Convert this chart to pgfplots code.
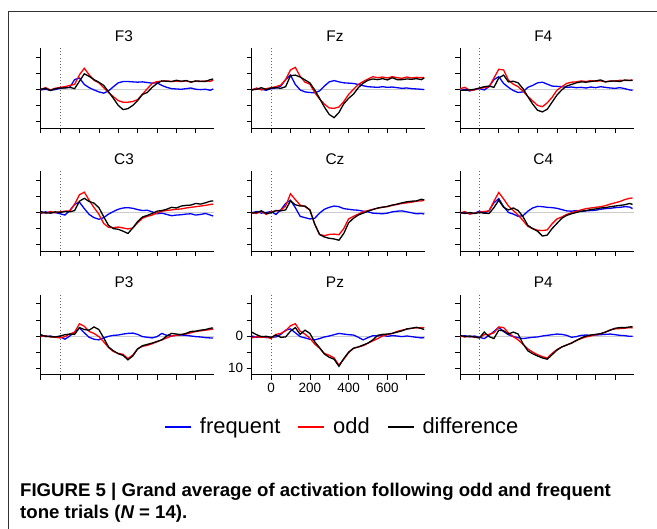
\documentclass[border=0pt]{standalone}
\usepackage{fontspec}
\setmainfont{Liberation Sans}
\newfontfamily\capfont[FakeStretch=1.01]{Liberation Sans}
\usepackage{pgfplots}
\usepackage{pgfplotstable}
\pgfplotsset{compat=1.18}

% t = ms, f = frequent, o = odd, d = difference (muV, negative up)
\pgfplotstableread{
t f o d
-100 0.2 0.1 0.0
-75 0.0 -0.5 -0.3
-50 0.3 0.2 0.4
-25 0.1 -0.3 -0.2
0 -0.3 -0.6 -0.4
25 -0.5 -0.8 -0.4
50 -0.6 -1.2 -0.6
75 -3.0 -1.5 -0.2
100 -3.5 -4.5 -2.5
125 -1.5 -6.5 -4.8
150 -0.5 -4.5 -4.0
175 0.2 -2.8 -3.0
200 0.8 -2.0 -2.2
225 1.2 -0.5 -1.2
250 0.5 1.0 0.8
275 -0.8 2.3 2.8
300 -2.0 3.5 5.0
325 -2.4 4.0 6.3
350 -2.4 4.0 6.0
375 -2.3 3.8 5.0
400 -2.2 3.2 3.5
425 -2.3 1.5 1.6
450 -2.1 -0.2 1.0
475 -1.9 -1.8 -0.6
500 -2.0 -2.4 -1.8
525 -1.2 -2.5 -2.6
550 -0.6 -2.6 -2.5
575 -0.2 -2.4 -2.4
600 -0.1 -2.5 -2.8
625 0.0 -2.4 -2.5
650 -0.2 -2.6 -2.7
675 -0.4 -2.3 -2.2
700 0.0 -2.5 -2.6
725 0.1 -2.4 -2.5
750 0.0 -2.6 -2.4
775 0.3 -2.5 -3.0
790 -0.1 -2.8 -3.2
}\tFthree

\pgfplotstableread{
t f o d
-100 0.1 0.3 0.2
-75 -0.2 -0.4 0.0
-50 0.0 0.2 -0.5
-25 0.3 -0.2 0.1
0 -0.2 -0.5 -0.4
25 -0.4 -0.8 -0.5
50 -1.0 -1.3 -0.3
75 -3.0 -3.0 -0.8
100 -4.4 -6.0 -4.2
125 -1.5 -6.8 -4.4
150 0.2 -4.0 -3.8
175 0.8 -2.2 -2.9
200 1.0 -1.6 -2.0
225 1.1 1.0 0.2
250 0.5 3.0 2.8
275 -1.0 4.6 5.5
300 -2.3 5.8 7.8
325 -2.7 5.9 8.8
350 -2.3 5.5 7.2
375 -2.0 3.8 4.5
400 -1.9 1.6 2.8
425 -1.8 0.0 1.5
450 -1.5 -1.5 -0.5
475 -1.1 -2.4 -1.9
500 -0.8 -3.2 -2.8
525 -0.7 -3.9 -3.2
550 -0.6 -3.6 -3.0
575 -0.8 -3.8 -3.3
600 -0.6 -3.5 -2.9
625 -0.7 -3.9 -3.6
650 -0.5 -3.6 -3.0
675 -0.3 -3.4 -3.0
700 -0.4 -3.8 -3.2
725 -0.2 -3.5 -3.1
750 -0.1 -3.7 -3.3
775 0.0 -3.6 -3.0
790 0.1 -3.7 -3.5
}\tFz

\pgfplotstableread{
t f o d
-100 0.4 -0.2 0.3
-75 0.0 -0.6 0.3
-50 0.5 0.3 0.2
-25 0.1 0.2 0.0
0 -0.2 -0.3 -0.4
25 0.2 -0.5 -0.8
50 -0.8 -0.8 -1.0
75 -3.0 -3.5 -0.6
100 -3.9 -6.2 -3.5
125 -1.8 -6.0 -4.4
150 -0.6 -2.8 -2.3
175 0.4 -1.6 -2.5
200 1.0 -0.8 -2.0
225 0.8 0.6 -0.2
250 -0.6 2.2 2.3
275 -1.2 3.6 4.6
300 -2.0 5.0 6.5
325 -2.2 5.4 7.0
350 -1.6 4.2 6.2
375 -1.0 2.5 4.0
400 -0.9 0.3 1.8
425 -0.8 -0.8 0.2
450 -0.6 -1.8 -1.0
475 -0.7 -2.2 -1.5
500 -0.5 -2.3 -2.0
525 -0.6 -2.6 -2.3
550 -0.4 -2.4 -2.2
575 -0.7 -2.7 -2.4
600 -0.5 -2.5 -2.6
625 -0.8 -2.6 -2.9
650 -0.6 -2.3 -2.3
675 -0.4 -2.6 -2.5
700 -0.3 -2.5 -2.6
725 -0.5 -2.8 -2.4
750 -0.2 -2.7 -2.9
775 0.2 -2.8 -2.7
790 0.3 -2.9 -2.8
}\tFfour

\pgfplotstableread{
t f o d
-100 0.3 0.0 -0.3
-75 -0.2 0.2 0.1
-50 0.1 -0.3 0.2
-25 0.0 0.1 -0.2
0 0.4 -0.2 0.0
25 0.8 -0.4 -0.3
50 -0.6 -0.5 -0.2
75 -2.5 -2.5 -0.6
100 -3.2 -5.5 -3.5
125 -1.2 -6.3 -4.4
150 0.6 -3.8 -3.4
175 1.6 -1.5 -2.9
200 2.1 0.5 -1.5
225 1.6 3.4 1.3
250 0.5 4.6 4.0
275 -0.3 4.7 5.0
300 -1.0 4.5 5.2
325 -1.4 4.8 5.8
350 -1.5 5.1 6.5
375 -1.3 4.8 4.8
400 -0.9 3.2 2.8
425 -0.6 1.8 1.4
450 -0.7 1.2 0.9
475 -0.2 0.8 0.3
500 0.4 0.2 -0.4
525 0.2 -0.4 -0.6
550 0.6 -0.6 -1.0
575 1.0 -0.8 -1.6
600 0.8 -1.0 -1.4
625 0.7 -1.1 -2.0
650 0.5 -1.4 -2.2
675 0.4 -1.6 -2.3
700 0.8 -1.8 -2.8
725 0.6 -2.0 -2.6
750 0.3 -2.2 -3.0
775 0.8 -2.5 -3.5
790 1.1 -2.6 -3.6
}\tCthree

\pgfplotstableread{
t f o d
-100 0.1 0.0 0.2
-75 -0.3 0.3 0.0
-50 0.2 -0.4 -0.5
-25 0.0 0.6 0.3
0 -0.3 -0.2 0.1
25 0.6 -0.5 -0.6
50 -0.8 -0.7 -0.5
75 -2.8 -2.0 -0.8
100 -3.8 -5.8 -3.6
125 -1.5 -4.0 -2.4
150 1.2 -2.3 -2.0
175 1.6 -1.8 -2.0
200 2.0 -0.8 -0.8
225 1.8 3.6 3.6
250 0.2 6.8 6.8
275 -1.0 7.2 7.6
300 -1.6 6.8 8.0
325 -2.0 6.7 8.2
350 -1.8 6.9 8.6
375 -1.2 5.0 6.5
400 -1.0 2.0 3.2
425 -0.8 1.2 1.8
450 -0.7 0.5 0.8
475 -0.4 -0.2 0.2
500 -0.2 -0.6 -0.4
525 0.2 -1.0 -0.9
550 0.3 -1.3 -1.4
575 0.4 -1.7 -1.6
600 0.2 -1.8 -1.9
625 -0.2 -2.2 -2.3
650 -0.4 -2.5 -2.6
675 -0.5 -2.8 -3.0
700 -0.2 -3.0 -3.3
725 0.1 -3.2 -3.5
750 0.4 -3.5 -3.6
775 0.3 -3.6 -4.1
790 0.5 -3.8 -3.9
}\tCz

\pgfplotstableread{
t f o d
-100 0.3 0.2 -0.1
-75 0.0 -0.3 0.3
-50 0.4 0.5 0.0
-25 0.2 0.2 0.3
0 -0.4 -0.1 0.0
25 0.2 -0.3 0.2
50 -0.6 -0.5 0.3
75 -3.0 -3.5 -1.5
100 -4.3 -6.2 -3.8
125 -1.8 -4.2 -1.6
150 0.0 -2.0 -0.8
175 0.5 -0.6 -1.4
200 1.2 0.8 -0.6
225 1.0 2.5 1.3
250 -0.4 4.3 4.0
275 -1.4 5.0 5.0
300 -1.9 5.5 5.8
325 -1.8 5.6 7.3
350 -1.6 5.4 7.0
375 -1.5 3.5 5.0
400 -1.3 2.0 3.4
425 -0.9 1.4 1.8
450 -0.5 0.6 0.9
475 -0.4 0.1 0.4
500 -0.6 -0.4 0.0
525 -0.3 -0.8 -0.4
550 -0.5 -1.2 -0.6
575 -0.6 -1.4 -0.9
600 -0.7 -1.6 -1.1
625 -1.0 -1.8 -1.4
650 -1.2 -2.1 -1.5
675 -1.3 -2.6 -1.8
700 -1.5 -3.0 -2.0
725 -1.6 -3.4 -2.2
750 -1.8 -4.0 -2.4
775 -1.7 -4.4 -2.8
790 -1.2 -4.5 -2.5
}\tCfour

\pgfplotstableread{
t f o d
-100 -0.3 0.2 -0.4
-75 0.2 -0.1 0.1
-50 0.0 0.3 0.2
-25 0.4 0.4 0.3
0 0.2 0.6 0.0
25 1.0 0.2 -0.4
50 0.0 -0.6 -0.6
75 -1.2 -1.2 -0.5
100 -2.5 -3.8 -2.6
125 -1.0 -3.0 -2.0
150 0.4 -1.4 -1.8
175 1.0 -0.8 -2.8
200 1.2 0.2 -2.0
225 0.6 1.8 0.6
250 0.1 3.6 3.4
275 -0.2 4.8 4.6
300 -0.3 5.4 5.5
325 -0.6 5.7 6.0
350 -0.8 7.0 7.4
375 -0.9 5.9 6.2
400 -0.5 4.0 4.0
425 0.2 3.2 3.0
450 0.4 2.9 2.6
475 0.6 2.4 2.2
500 0.2 1.8 1.7
525 -0.8 1.2 1.2
550 -0.2 0.6 0.0
575 0.0 0.0 -0.8
600 -0.2 -0.2 -0.6
625 -0.3 -0.5 -0.4
650 -0.2 -0.6 -0.8
675 0.0 -1.0 -1.4
700 0.2 -1.4 -1.5
725 0.3 -1.6 -1.8
750 0.5 -1.8 -2.0
775 0.6 -2.0 -2.4
790 0.6 -2.1 -2.5
}\tPthree

\pgfplotstableread{
t f o d
-100 0.0 0.6 -1.2
-75 0.4 0.2 -0.4
-50 0.2 0.4 0.2
-25 0.5 0.3 0.1
0 0.4 0.8 0.4
25 0.3 -0.5 -0.3
50 -0.5 -0.8 0.4
75 -1.8 -1.6 0.3
100 -2.2 -3.2 -1.5
125 -1.0 -3.8 -2.6
150 0.2 -1.5 -0.5
175 0.6 -0.6 -1.8
200 1.0 0.7 -0.8
225 1.2 2.5 1.8
250 0.8 3.8 3.6
275 0.3 5.4 5.6
300 0.0 6.0 6.6
325 -0.4 6.8 7.2
350 -0.8 9.0 9.4
375 -0.6 7.2 7.0
400 -0.4 5.2 5.0
425 -0.3 3.8 3.8
450 0.4 3.4 3.4
475 1.2 3.0 2.8
500 0.5 2.2 2.2
525 -0.1 1.5 1.2
550 0.0 0.8 -0.2
575 -0.2 0.0 -0.5
600 0.1 -0.4 -0.6
625 -0.1 -0.8 -0.8
650 0.0 -1.4 -1.2
675 0.2 -1.8 -1.6
700 0.0 -2.1 -2.2
725 0.2 -2.4 -2.4
750 0.4 -2.5 -2.7
775 0.6 -2.6 -2.3
790 0.5 -2.5 -2.0
}\tPz

\pgfplotstableread{
t f o d
-100 0.2 0.0 -0.2
-75 -0.1 0.3 0.2
-50 0.3 0.1 0.0
-25 0.0 0.4 0.3
0 0.4 0.5 0.6
25 0.8 -0.4 -1.2
50 -0.2 -0.5 0.2
75 -1.4 -1.0 0.8
100 -2.7 -2.8 -1.8
125 -1.4 -2.6 -1.6
150 -0.4 -1.0 -0.6
175 0.2 0.2 -1.2
200 0.5 1.2 -0.6
225 0.8 2.6 2.4
250 0.6 4.0 4.6
275 0.4 5.0 5.5
300 0.3 5.8 6.2
325 0.0 6.4 6.8
350 -0.2 6.8 7.2
375 -0.4 5.4 5.8
400 -0.6 4.2 4.4
425 -0.5 3.4 3.4
450 -0.2 2.8 2.8
475 0.4 2.2 2.2
500 0.2 1.4 1.4
525 -0.2 0.8 0.6
550 -0.3 0.3 0.0
575 -0.2 0.0 -0.3
600 -0.3 -0.4 -0.5
625 -0.4 -0.7 -0.7
650 -0.5 -1.2 -1.2
675 -0.6 -1.9 -1.8
700 -0.4 -2.2 -2.4
725 -0.2 -2.3 -2.6
750 -0.1 -2.4 -2.6
775 0.1 -2.6 -2.8
790 0.1 -2.5 -2.9
}\tPfour

\pgfplotsset{
  erp/.style={
    scale only axis, width=173.5bp, height=80bp,
    anchor=north west,
    xmin=-100, xmax=795, ymin=-12.8, ymax=12, y dir=reverse,
    axis x line*=bottom, axis y line*=left,
    axis line style={black, line width=0.7bp, -},
    xtick={-100,0,...,700}, ytick={-10,-5,0,5,10},
    xticklabels={}, yticklabels={},
    tick align=outside, major tick length=5bp,
    tick style={black, line width=0.7bp},
    extra y ticks={0}, extra y tick labels={},
    extra y tick style={grid=major, major grid style={black!20, line width=0.9bp}, major tick length=0pt},
    extra x ticks={0}, extra x tick labels={},
    extra x tick style={grid=major, major grid style={black!60, dash pattern=on 0.8bp off 2.4bp, line width=0.8bp}, major tick length=0pt},
    title style={font=\fontsize{15.5}{18}\selectfont, at={(0.48,1)}, anchor=base, yshift=1bp},
    tick label style={font=\fontsize{13.5}{15}\selectfont},
    /pgf/number format/assume math mode=true,
  },
  fr/.style={blue, line width=1.3bp},
  od/.style={red, line width=1.3bp},
  df/.style={black, line width=1.3bp},
}

\newcommand\traces[1]{%
  \addplot[fr] table[x=t, y=f]{#1};
  \addplot[od] table[x=t, y=o]{#1};
  \addplot[df] table[x=t, y=d]{#1};
}

\begin{document}
\begin{tikzpicture}
\path[use as bounding box] (0bp,0bp) rectangle (657bp,529bp);
\draw[black!80, line width=0.8bp] (657bp,518bp) -- (8bp,518bp) -- (8bp,0bp);

\begin{axis}[erp, at={(40.7bp,481bp)}, title={F3}]
\traces{\tFthree}
\end{axis}
\begin{axis}[erp, at={(251.7bp,481bp)}, title={Fz}]
\traces{\tFz}
\end{axis}
\begin{axis}[erp, at={(460bp,481bp)}, title={F4}]
\traces{\tFfour}
\end{axis}

\begin{axis}[erp, at={(40.7bp,357.8bp)}, title={C3}]
\traces{\tCthree}
\end{axis}
\begin{axis}[erp, at={(251.7bp,357.8bp)}, title={Cz}]
\traces{\tCz}
\end{axis}
\begin{axis}[erp, at={(460bp,357.8bp)}, title={C4}]
\traces{\tCfour}
\end{axis}

\begin{axis}[erp, at={(40.7bp,234.3bp)}, title={P3}]
\traces{\tPthree}
\end{axis}
\begin{axis}[erp, at={(251.7bp,234.3bp)}, title={Pz},
  xticklabels={,0,,200,,400,,600},
  yticklabels={,,0,,10},
  legend columns=3,
  legend style={at={(axis description cs:0.522,-0.65)}, anchor=center,
    draw=none, fill=none, font=\fontsize{22}{24}\selectfont,
    /tikz/every odd column/.append style={column sep=6bp},
    /tikz/every even column/.append style={column sep=15bp}},
  legend image code/.code={\draw[#1, line width=1.8bp] (0bp,0bp) -- (26bp,0bp);},
]
\traces{\tPz}
\legend{frequent, odd, difference}
\node[anchor=north east, inner sep=0pt, font=\fontsize{15}{17}\selectfont, xshift=-1.5bp, yshift=3bp] at (axis description cs:0,1) {μV};
\end{axis}
\begin{axis}[erp, at={(460bp,234.3bp)}, title={P4}]
\traces{\tPfour}
\end{axis}

\node[anchor=base west, inner sep=0pt, font=\capfont\bfseries\fontsize{18.5}{20}\selectfont] at (20bp,33bp) {FIGURE 5 | Grand average of activation following odd and frequent};
\node[anchor=base west, inner sep=0pt, font=\capfont\bfseries\fontsize{18.5}{20}\selectfont] at (20bp,11bp) {tone trials ({\itshape N} = 14).};
\end{tikzpicture}
\end{document}
